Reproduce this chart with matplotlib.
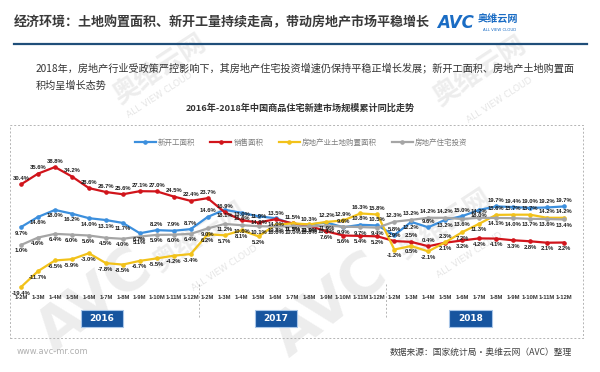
import numpy as np
import matplotlib
matplotlib.use("Agg")
from matplotlib import pyplot as plt
from matplotlib.patches import Rectangle
from matplotlib.lines import Line2D

plt.rcParams['font.family'] = ['Noto Sans CJK SC', 'DejaVu Sans']

# x categories: cumulative months for 2016, 2017, 2018
months = ['1-2M', '1-3M', '1-4M', '1-5M', '1-6M', '1-7M', '1-8M', '1-9M', '1-10M', '1-11M', '1-12M']
x_labels = months * 3
years = ['2016', '2017', '2018']

# cumulative y/y growth, %
new_start = [9.7, 14.6, 18.0, 16.2, 14.0, 13.1, 11.7, 6.7, 8.2, 7.9, 8.7,
             14.6, 18.1, 16.6, 14.9, 14.0, 11.2, 10.9, 11.9, 9.6, 10.8, 10.5,
             5.8, 12.2, 9.6, 13.2, 15.0, 18.0, 19.7, 19.4, 19.0, 19.2, 19.7]
sales = [30.4, 35.6, 38.8, 34.2, 28.6, 26.7, 25.6, 27.1, 27.0, 24.5, 22.4,
         23.7, 16.9, 13.0, 11.9, 13.5, 11.5, 10.3, 7.6, 5.6, 5.4, 5.2,
         2.9, 2.5, 0.4, 2.1, 3.2, 4.2, 4.1, 3.3, 2.8, 2.1, 2.2]
land = [-19.4, -11.7, -6.5, -5.9, -3.0, -7.8, -8.5, -6.7, -5.5, -4.2, -3.4,
        6.2, 5.7, 8.1, 5.2, 10.8, 11.5, 11.0, 12.2, 12.9, 16.3, 15.8,
        -1.2, 0.5, -2.1, 2.3, 7.2, 11.3, 15.6, 15.7, 15.7, 14.2, 14.2]
invest = [1.0, 4.6, 6.4, 6.0, 5.6, 4.5, 4.0, 5.1, 5.9, 6.0, 6.4,
          9.0, 11.2, 10.6, 10.1, 10.0, 10.0, 10.0, 10.4, 9.9, 9.7, 9.4,
          12.3, 13.2, 14.2, 14.2, 13.6, 14.2, 14.1, 14.0, 13.7, 13.6, 13.4]

series_names = ['新开工面积', '销售面积', '房地产业土地购置面积', '房地产住宅投资']
series_vals = [new_start, sales, land, invest]
colors = ['#3c8fdd', '#d1141b', '#f2c21a', '#a5a5a5']
# where each data label sits: a = above, b = below
label_side = [
    'bbbbbbbbaaa' + 'abbbbbbbaaa' + 'abababaaaaa',
    'aaaaaaaaaaa' + 'aaaaaaabbbb' + 'aaabbbbbbbb',
    'bbbbbbbbbbb' + 'bbbbbbbaaaa' + 'bbbabbaaaaa',
    'bbbbbbbbbbb' + 'bbbbbbbbbbb' + 'aaaababbbbb',
]

W, H = 600, 372
fig = plt.figure(figsize=(6, 3.72), dpi=100)


def fx(px):
    return px / W


def fy(py):
    return 1 - py / H


# faint watermarks behind everything
wm = dict(color='#cccccc', alpha=0.35, zorder=-2, fontweight='bold', ha='center', va='center')
for (x0, y0) in [(95, 300), (330, 305)]:
    fig.text(fx(x0), fy(y0), 'AVC', fontsize=42, rotation=38, family='DejaVu Sans', **wm)
for (x0, y0) in [(200, 238), (445, 225), (160, 70), (480, 72)]:
    fig.text(fx(x0), fy(y0), '奥维云网', fontsize=19, rotation=33, **wm)
for (x0, y0) in [(225, 268), (470, 255), (160, 95), (500, 100)]:
    fig.text(fx(x0), fy(y0), 'ALL VIEW CLOUD', fontsize=6.5, rotation=33,
             family='DejaVu Sans', color='#cccccc', alpha=0.5, zorder=-2, ha='center', va='center')

# header
fig.text(fx(14), fy(22), '经济环境：土地购置面积、新开工量持续走高，带动房地产市场平稳增长',
         fontsize=9.4, fontweight='bold', color='#3a3a3a', va='center', ha='left')
fig.text(fx(437), fy(23), 'AVC', fontsize=12, fontweight='bold', style='italic',
         color='#1a6cc4', family='DejaVu Sans', va='center', ha='left')
fig.text(fx(478), fy(19), '奥维云网', fontsize=7.3, fontweight='bold', color='#1a6cc4', va='center', ha='left')
fig.text(fx(483), fy(30), 'ALL VIEW CLOUD', fontsize=2.8, color='#1a6cc4', family='DejaVu Sans',
         va='center', ha='left')
fig.add_artist(Line2D([fx(14), fx(587)], [fy(44), fy(44)], color='#1f4e79', lw=1.6))

fig.text(fx(36), fy(68), '2018年，房地产行业受政策严控影响下，其房地产住宅投资增速仍保持平稳正增长发展；新开工面积、房地产土地购置面',
         fontsize=7.3, color='#333333', va='center', ha='left')
fig.text(fx(36), fy(86), '积均呈增长态势', fontsize=7.3, color='#333333', va='center', ha='left')

fig.text(fx(300), fy(108), '2016年-2018年中国商品住宅新建市场规模累计同比走势',
         fontsize=6.6, fontweight='bold', color='#333333', va='center', ha='center')

# dashed frame around chart
fig.add_artist(Rectangle((fx(10), fy(338)), 573 / W, 213 / H, transform=fig.transFigure,
                         fill=False, ec='#b4b4b4', lw=0.7, ls=(0, (2, 2))))

# chart axes
ax = fig.add_axes([fx(10), fy(292), 573 / W, (292 - 125) / H])
ax.patch.set_visible(False)
xs = np.arange(len(x_labels))
for name, vals, c, side in zip(series_names, series_vals, colors, label_side):
    ax.plot(xs, vals, color=c, lw=1.6, marker='o', ms=2.3, label=name, zorder=3)
    for i, v in enumerate(vals):
        up = side[i] == 'a'
        ax.annotate('{:.1f}%'.format(v), (xs[i], v), xytext=(0, 2.5 if up else -2.5),
                    textcoords='offset points', ha='center', va='bottom' if up else 'top',
                    fontsize=4.2, fontweight='bold', color='#1e1e1e',
                    family=['Liberation Sans Narrow', 'Liberation Sans'], zorder=4)

ax.set_xlim(-0.65, 33.12)
ax.set_ylim(-21.8, 59.2)
ax.set_yticks([])
ax.set_xticks(xs)
ax.set_xticklabels(x_labels, fontsize=4.2, fontweight='bold', color='#333333',
                   family=['Liberation Sans Narrow', 'Liberation Sans'])
ax.tick_params(axis='x', length=0, pad=2.5)
for s in ax.spines.values():
    s.set_visible(False)

# year separators
for xv in [10.5, 21.5]:
    ax.plot([xv, xv], [0.05, -0.16], transform=ax.get_xaxis_transform(), clip_on=False,
            color='#b4b4b4', lw=0.7, ls=(0, (2, 2)))

leg = ax.legend(loc='center', bbox_to_anchor=(0.508, 0.892), ncol=4, frameon=False,
                fontsize=5.4, handlelength=2.8, columnspacing=2.0, handletextpad=0.3)
for t in leg.get_texts():
    t.set_color('#7f7f7f')

# year boxes
for yr, (x0, x1) in zip(years, [(81, 123), (255, 297), (449, 492)]):
    fig.add_artist(Rectangle((fx(x0), fy(327)), (x1 - x0) / W, 17 / H, transform=fig.transFigure,
                             fc='#17559f', ec='#a9c6e8', lw=0.8))
    fig.text(fx((x0 + x1) / 2), fy(318.5), yr, fontsize=6.5, fontweight='bold', color='white',
             family='DejaVu Sans', ha='center', va='center')

# footer
fig.text(fx(17), fy(352), 'www.avc-mr.com', fontsize=6, color='#b0b0b0', family='DejaVu Sans',
         ha='left', va='center')
fig.text(fx(572), fy(352), '数据来源：国家统计局•奥维云网（AVC）整理', fontsize=6.3, color='#404040',
         ha='right', va='center')

fig.savefig('out.png', dpi=100)
